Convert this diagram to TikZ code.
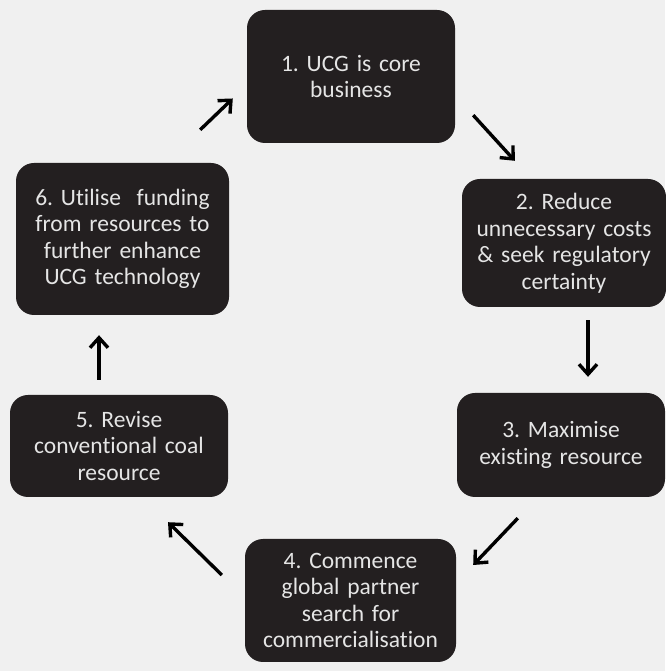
\documentclass[tikz,border=0pt]{standalone}
\usepackage{fontspec}
\setmainfont{Carlito}[Ligatures=NoCommon]
\frenchspacing
\usetikzlibrary{arrows.meta,calc}
\definecolor{boxblack}{HTML}{231F20}
\tikzstyle{stage} = [rectangle, fill=boxblack, text=white!90!black,
    text centered, rounded corners=18pt, inner sep=0pt,
    font=\fontsize{23.5}{26.5}\selectfont]
\tikzstyle{cyc} = [line width=3.4pt, -{Straight Barb[length=10pt,width=18pt,line width=3.4pt]}]

\begin{document}
\begin{tikzpicture}[x=1pt,y=1pt]
  \fill[black!6] (0,0) rectangle (665,671);
  \useasboundingbox (0,0) rectangle (665,671);

  \node[stage,minimum width=208pt,minimum height=133pt,text width=204pt] (1) at (351,594.5) {1. UCG is core\\business};
  \node[stage,minimum width=202pt,minimum height=128pt,text width=204pt] (2) at (564,428) {2. Reduce\\unnecessary costs\\\& seek regulatory\\certainty};
  \node[stage,minimum width=208pt,minimum height=104pt,text width=204pt] (3) at (561,226) {3. Maximise\\existing resource};
  \node[stage,minimum width=211pt,minimum height=123pt,text width=208pt] (4) at (350.5,70.5) {4. Commence\\global partner\\search for\\commercialisation};
  \node[stage,minimum width=218pt,minimum height=102pt,text width=208pt] (5) at (119,225) {5. Revise\\conventional coal\\resource};
  \node[stage,minimum width=213pt,minimum height=152pt,text width=208pt] (6) at (122.5,432) {6. Utilise\ \ funding\\from resources to\\further enhance\\UCG technology};

  \draw[cyc] ($(6.north east)+(-29,33)$) -- ($(1.west)+(-14,-22)$);
  \draw[cyc] ($(1.south east)+(18,28)$) -- ($(2.north west)+(53,18)$);
  \draw[cyc] ($(2.south)+(24,-13)$) -- ($(3.north)+(27,16)$);
  \draw[cyc] ($(3.south west)+(61,-21)$) -- ($(4.east)+(17,35.5)$);
  \draw[cyc] ($(4.west)+(-23,25.5)$) -- ($(5.south)+(49,-25)$);
  \draw[cyc] ($(5.north)+(-20,15)$) -- ($(6.south)+(-23.5,-20)$);
\end{tikzpicture}
\end{document}
